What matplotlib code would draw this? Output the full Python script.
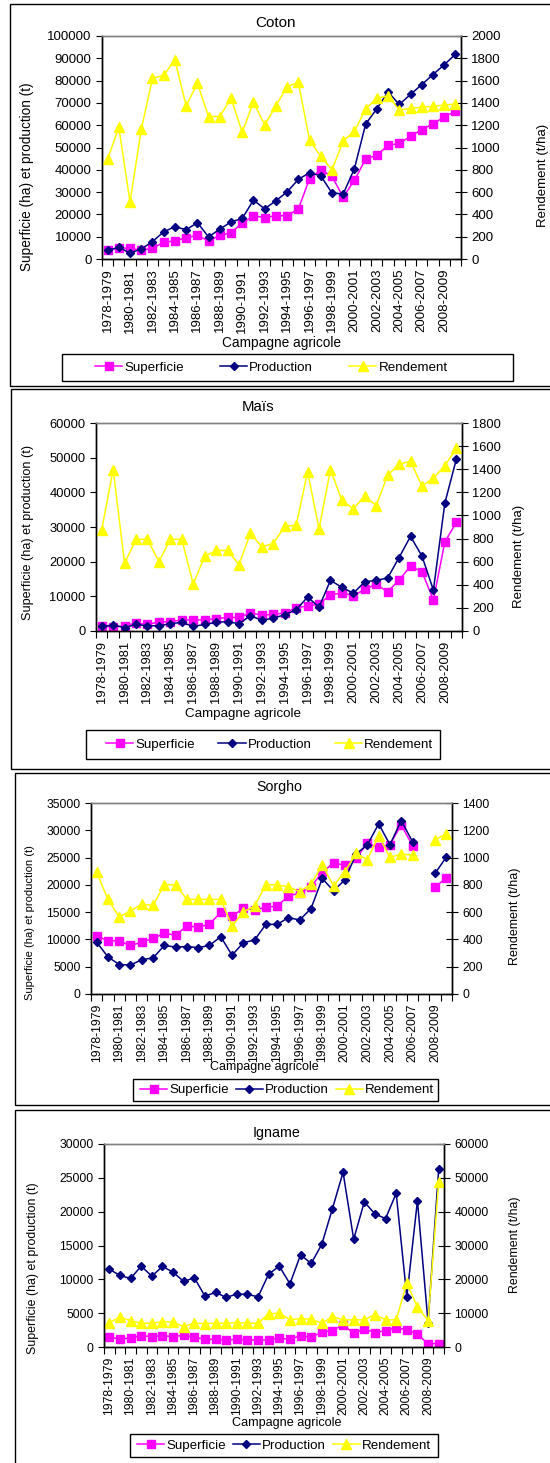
import numpy as np
import matplotlib
matplotlib.use("Agg")
import matplotlib.pyplot as plt
from matplotlib.patches import Rectangle

plt.rcParams['font.family'] = ['Liberation Sans', 'DejaVu Sans']

campagnes = ['1978-1979', '1979-1980', '1980-1981', '1981-1982', '1982-1983',
             '1983-1984', '1984-1985', '1985-1986', '1986-1987', '1987-1988',
             '1988-1989', '1989-1990', '1990-1991', '1991-1992', '1992-1993',
             '1993-1994', '1994-1995', '1995-1996', '1996-1997', '1997-1998',
             '1998-1999', '1999-2000', '2000-2001', '2001-2002', '2002-2003',
             '2003-2004', '2004-2005', '2005-2006', '2006-2007', '2007-2008',
             '2008-2009', '2009-2010']

# Coton
coton_sup = [4200, 4900, 4800, 3900, 4800, 7500, 8100, 9500, 10600, 8100, 10600, 11800,
             16100, 19400, 18600, 19400, 19400, 22400, 36000, 40000, 37000, 27800,
             35300, 44800, 46600, 50900, 51900, 55000, 58000, 60600, 63700, 66200]
coton_prod = [3900, 5200, 2700, 4500, 7800, 12200, 14500, 13100, 16300, 9900, 13400, 16600,
              18200, 26400, 22500, 26100, 30100, 35700, 38700, 37300, 29600, 29200,
              40500, 60500, 67400, 74900, 69300, 73800, 78200, 82700, 87100, 91800]
coton_rend = [896, 1180, 510, 1164, 1620, 1648, 1785, 1373, 1576, 1278, 1278, 1442,
              1137, 1406, 1203, 1373, 1546, 1585, 1065, 920, 800, 1058, 1147, 1345,
              1443, 1463, 1336, 1350, 1362, 1370, 1380, 1390]

# Maïs
mais_sup = [1500, 1100, 1500, 2300, 1900, 2600, 2700, 3200, 3200, 3200, 3600, 3900,
            3900, 5200, 4600, 4800, 5200, 6700, 7200, 7800, 10400, 11000, 10200, 12000,
            13500, 11300, 14700, 18700, 17100, 8900, 25700, 31300]
mais_prod = [1300, 1700, 1000, 1900, 1500, 1500, 2100, 2500, 1300, 1900, 2500, 2700,
             2100, 4400, 3100, 3700, 4700, 6100, 9800, 6900, 14600, 12600, 10900, 14200,
             14600, 15300, 21200, 27300, 21600, 11800, 36900, 49500]
mais_rend = [877, 1397, 586, 794, 794, 600, 794, 794, 406, 646, 697, 697,
             574, 846, 729, 757, 906, 914, 1377, 883, 1397, 1131, 1057, 1169,
             1086, 1349, 1443, 1469, 1254, 1323, 1430, 1580]

# Sorgho (2007-2008 absent)
nan = np.nan
sorgho_sup = [10600, 9800, 9700, 8900, 9500, 10200, 11100, 10800, 12450, 12270, 12760, 14970,
              14230, 15710, 15340, 15950, 16070, 17980, 18470, 19630, 22330, 23990, 23620,
              24900, 27600, 26870, 27360, 30980, 27180, nan, 19600, 21300]
sorgho_prod = [9500, 6800, 5400, 5300, 6300, 6600, 8900, 8600, 8700, 8500, 8900, 10500,
               7100, 9400, 9900, 12760, 12760, 13990, 13560, 15650, 21170, 18900, 20920,
               25650, 27360, 31170, 27360, 31780, 27910, nan, 22100, 25100]
sorgho_rend = [891, 694, 564, 609, 658, 650, 800, 800, 694, 694, 694, 694,
               498, 601, 645, 800, 800, 785, 751, 805, 945, 793, 896, 1031,
               984, 1161, 1001, 1026, 1018, nan, 1130, 1175]

# Igname
igname_sup = [1530, 1140, 1340, 1680, 1530, 1680, 1530, 1730, 1440, 1140, 1140, 1040,
              1140, 1040, 1040, 1040, 1290, 1140, 1680, 1440, 2180, 2430, 3270, 2030,
              2670, 2130, 2430, 2870, 2520, 1880, 500, 500]
igname_prod = [11500, 10570, 10130, 11950, 10470, 11900, 11060, 9690, 10230, 7520, 8060, 7330,
               7820, 7770, 7420, 10770, 11950, 9340, 13620, 12340, 15190, 20450, 25810, 15930,
               21440, 19670, 18980, 22710, 7420, 21630, 3600, 26300]
igname_rend = [7230, 8800, 7820, 7030, 7030, 7520, 7330, 6040, 7030, 6930, 7030, 7030,
               7230, 7030, 7030, 9800, 10000, 8120, 8320, 8220, 7030, 9010, 8020, 8020,
               8020, 9600, 8020, 8020, 18900, 11800, 7800, 48700]

W, H = 550, 1463
fig = plt.figure(figsize=(W / 100, H / 100), dpi=100)
fig.patch.set_facecolor('white')


def fxy(x, y):
    return x / W, 1 - y / H


def box(x0, y0, x1, y1):
    fig.add_artist(Rectangle(fxy(x0, y1), (x1 - x0) / W, (y1 - y0) / H,
                             transform=fig.transFigure, fill=False,
                             edgecolor='black', lw=1))


def panel(frame, area, title, title_xy, sup, prod, rend, lmax, lstep, rmax, rstep,
          xlab_xy, ylab_xy, rlab_xy, fs, ylab_fs, rlab_fs, leg_box, leg_x, col_sp):
    box(*frame)
    a0, b0, a1, b1 = area
    ax = fig.add_axes([a0 / W, 1 - b1 / H, (a1 - a0) / W, (b1 - b0) / H])
    n = len(campagnes)
    x = np.arange(n)
    l1, = ax.plot(x, sup, color='#FF00FF', marker='s', ms=5.5, mec='#FF00FF', lw=1.1)
    l2, = ax.plot(x, prod, color='#000080', marker='D', ms=4, mec='#000080', lw=1.1)
    ax.set_xlim(-0.5, n - 0.5)
    ax.set_ylim(0, lmax)
    ax.set_yticks(np.arange(0, lmax + 1, lstep))
    ax.set_xticks(x[::2])
    ax.set_xticklabels(campagnes[::2], rotation=90, fontsize=fs)
    ax.set_xticks(np.arange(-0.5, n), minor=True)
    ax.tick_params(axis='x', which='major', length=0, pad=7)
    ax.tick_params(axis='x', which='minor', length=5, direction='out', width=0.8)
    ax.tick_params(axis='y', labelsize=fs, length=4, direction='out', width=0.8)
    for s in ax.spines.values():
        s.set_linewidth(1)
    ax.spines['top'].set_color('#808080')

    ax2 = ax.twinx()
    l3, = ax2.plot(x, rend, color='#FFFF00', marker='^', ms=6.5, mec='#FFFF00', lw=1.1)
    ax2.set_ylim(0, rmax)
    ax2.set_yticks(np.arange(0, rmax + 1, rstep))
    ax2.tick_params(axis='y', labelsize=fs, length=8, direction='inout', width=0.8)
    for s in ax2.spines.values():
        s.set_linewidth(1)
    ax2.spines['top'].set_color('#808080')

    fig.text(*fxy(*title_xy), title, ha='center', va='center', fontsize=fs + 1.5)
    fig.text(*fxy(*xlab_xy), 'Campagne agricole', ha='center', va='center', fontsize=fs + 0.3)
    fig.text(*fxy(*ylab_xy), 'Superficie (ha) et production (t)', ha='center',
             va='center', rotation=90, fontsize=ylab_fs)
    fig.text(*fxy(*rlab_xy), 'Rendement (t/ha)', ha='center', va='center',
             rotation=90, fontsize=rlab_fs)

    # legend: frame drawn separately, entries placed from leg_x
    g0, h0, g1, h1 = leg_box
    box(g0, h0, g1, h1)
    fig.legend([l1, l2, l3], ['Superficie', 'Production', 'Rendement'],
               loc='center left', bbox_to_anchor=fxy(leg_x, (h0 + h1) / 2),
               ncol=3, frameon=False, borderaxespad=0, borderpad=0,
               handlelength=2.05, handletextpad=0.15, columnspacing=col_sp,
               fontsize=9.6)


panel((10, 4, 570, 386), (102, 36, 461, 259), 'Coton', (276, 23),
      coton_sup, coton_prod, coton_rend, 100000, 10000, 2000, 200,
      (281, 343), (27, 177), (543, 175), 9.5, 9.8, 9.5,
      (62, 354, 513, 381), 95, 2.7)

panel((11, 389, 570, 769), (96, 423, 462, 631), 'Maïs', (258, 407),
      mais_sup, mais_prod, mais_rend, 60000, 10000, 1800, 200,
      (243, 714), (28, 532), (519, 556), 9.3, 9.1, 9.5,
      (86, 730, 440, 759), 106, 1.75)

panel((15, 773, 570, 1105), (91, 803, 452, 994), 'Sorgho', (279, 787),
      sorgho_sup, sorgho_prod, sorgho_rend, 35000, 5000, 1400, 200,
      (264, 1067), (30, 923), (515, 916), 8.7, 8.0, 9.0,
      (133, 1079, 438, 1101), 140, 0.5)

panel((15, 1110, 570, 1480), (104, 1144, 444, 1347), 'Igname', (277, 1133),
      igname_sup, igname_prod, igname_rend, 30000, 5000, 60000, 10000,
      (287, 1423), (33, 1268), (515, 1245), 8.8, 8.9, 8.9,
      (130, 1434, 438, 1457), 137, 0.5)

fig.savefig('out.png', dpi=100, facecolor='white')
